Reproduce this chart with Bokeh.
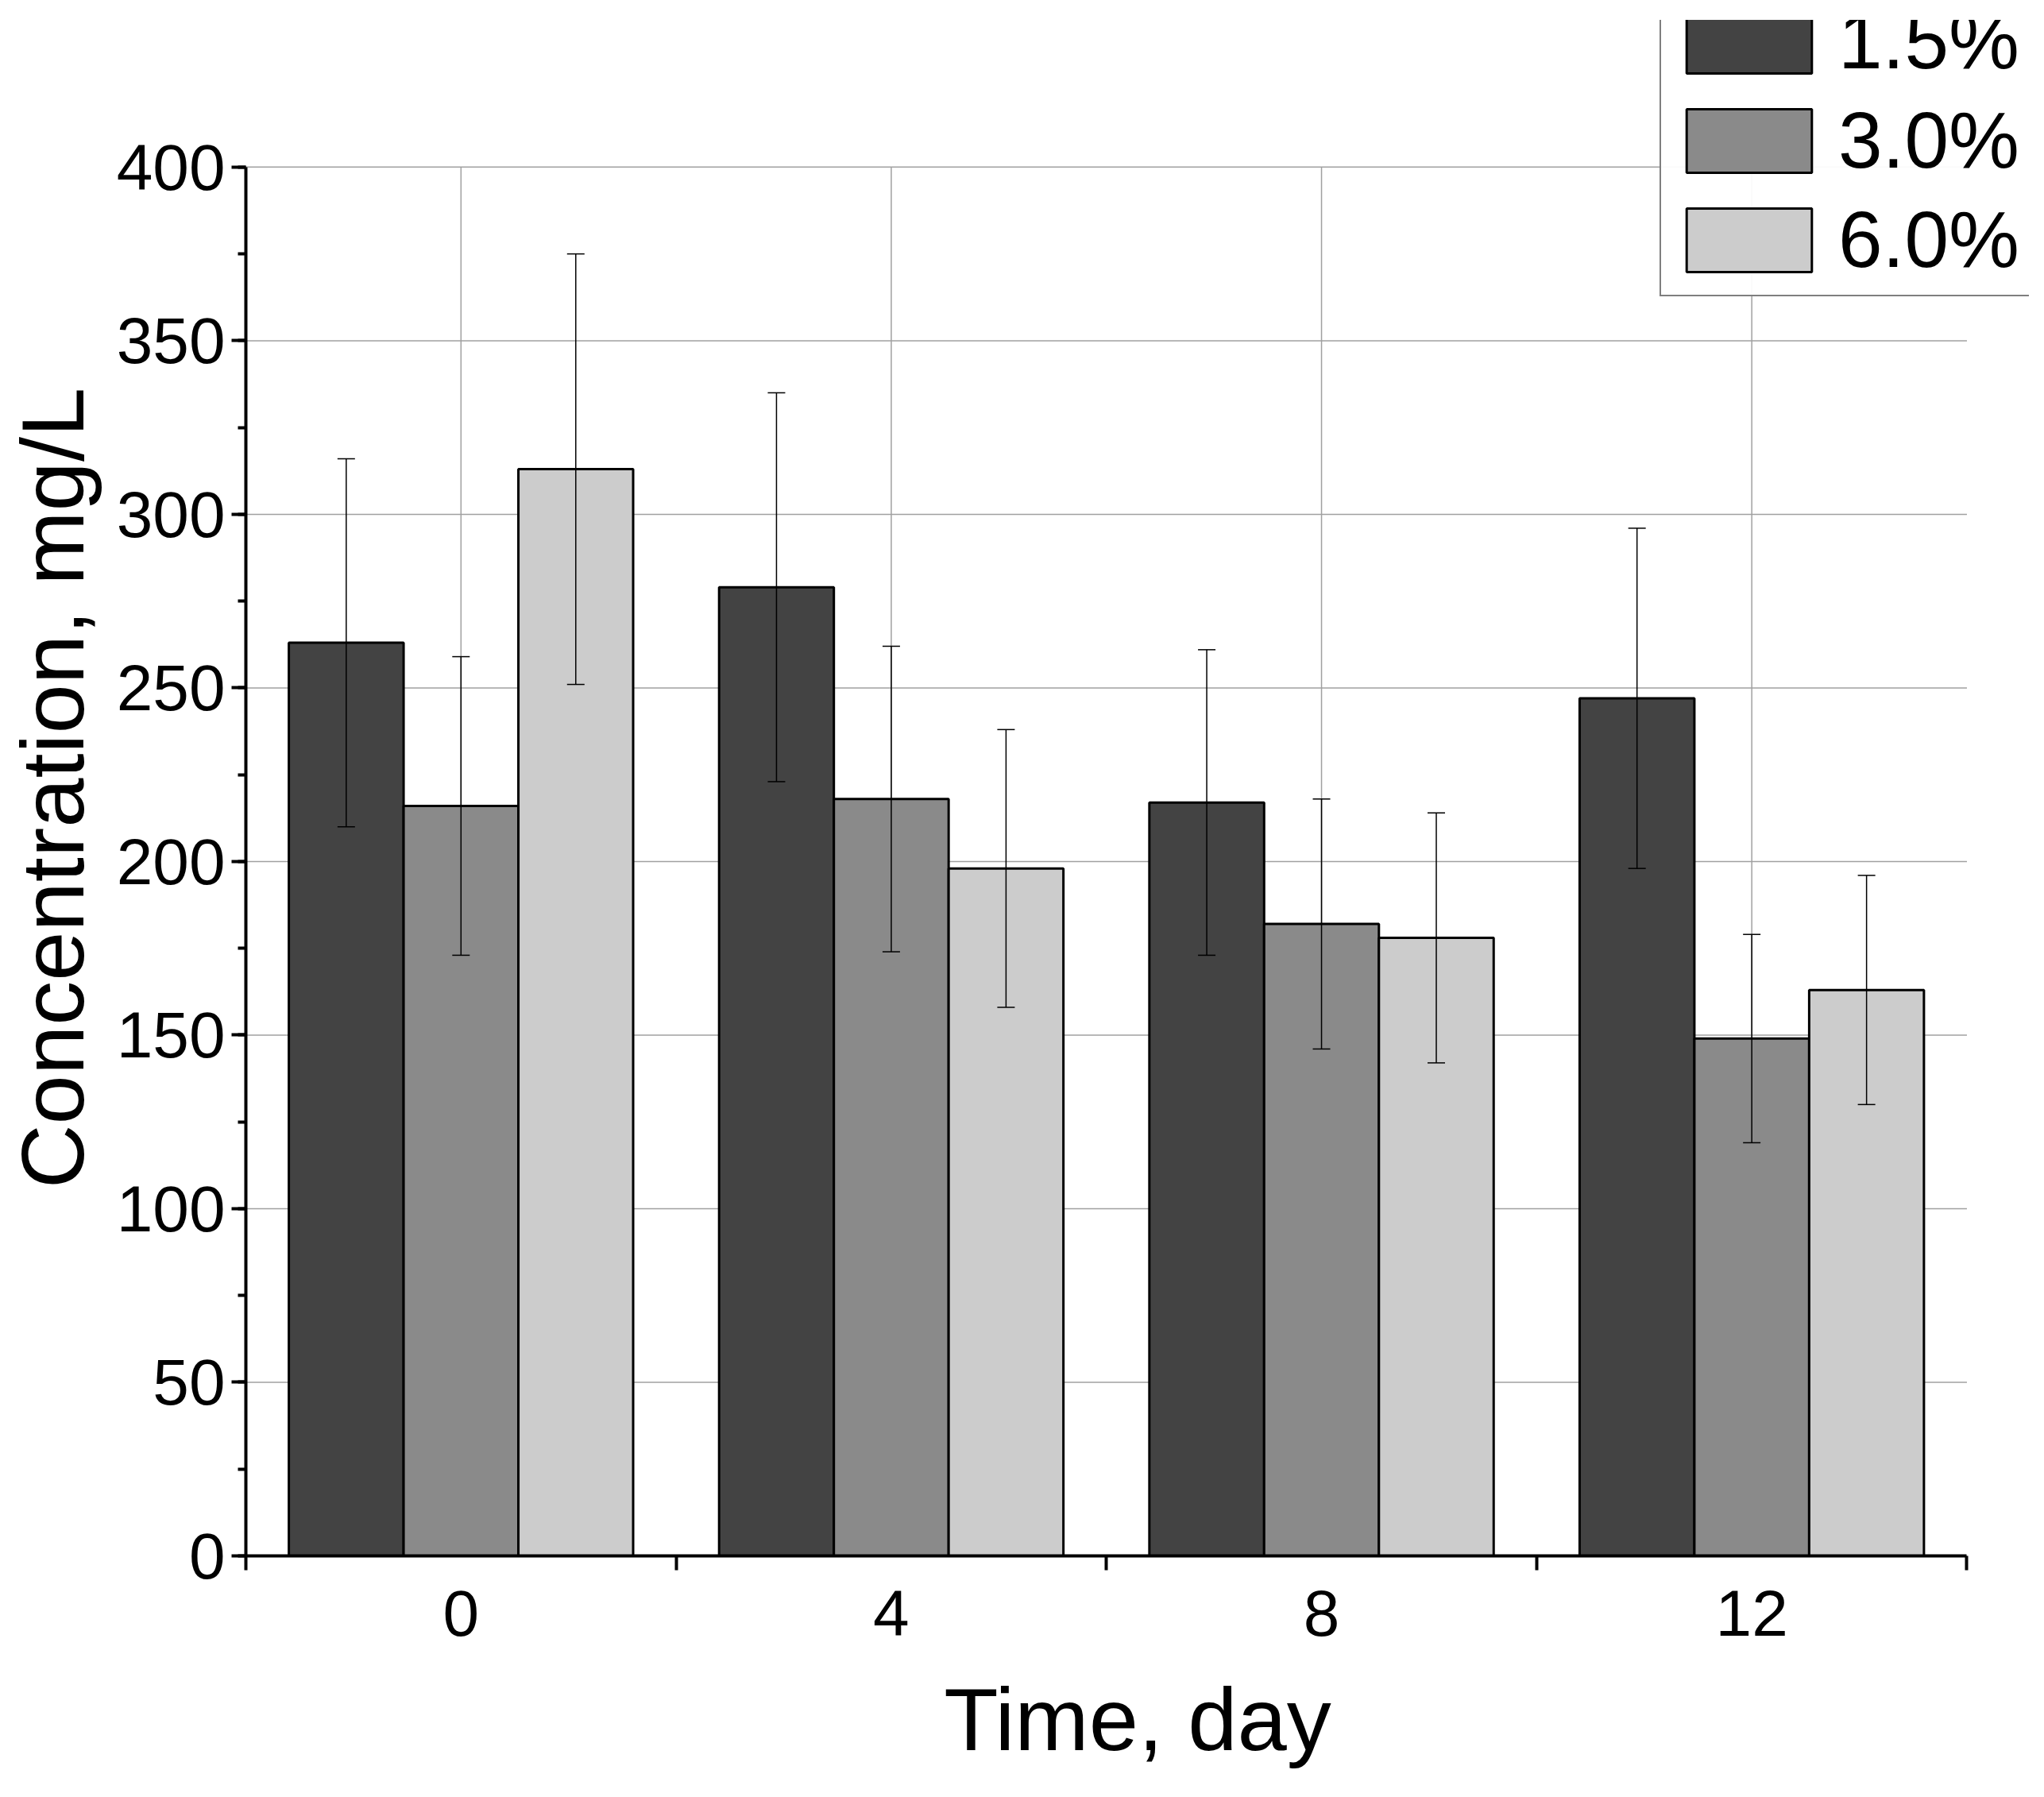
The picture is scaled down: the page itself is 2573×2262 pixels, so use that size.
from bokeh.plotting import figure
from bokeh.models import ColumnDataSource, Whisker, FixedTicker, Legend, LegendItem, Range1d
from bokeh.embed import file_html
from bokeh.resources import INLINE

days = [0, 4, 8, 12]
day_labels = ["0", "4", "8", "12"]
series = ["1.5%", "3.0%", "6.0%"]
colors = ["#434343", "#8a8a8a", "#cccccc"]
means = [
    [263, 279, 217, 247],
    [216, 218, 182, 149],
    [313, 198, 178, 163],
]
errors = [
    [53, 56, 44, 49],
    [43, 44, 36, 30],
    [62, 40, 36, 33],
]
y_ticks = list(range(0, 401, 50))
x_lo, x_hi, y_hi = -2, 14, 400

bar_w = 1.067
offsets = [-bar_w, 0, bar_w]
FONT = "Liberation Sans"

# frame extends above/right of the axes so the legend fits inside it
p = figure(width=2557, height=2246, output_backend="svg", toolbar_location=None,
           x_range=Range1d(-2, 14.58), y_range=Range1d(0, 442.3),
           min_border_left=309, min_border_right=3, min_border_top=25, min_border_bottom=288)
p.outline_line_color = None
p.grid.visible = False

# grid lines limited to the axes box
p.segment(x0=[x_lo] * len(y_ticks), x1=[x_hi] * len(y_ticks), y0=y_ticks, y1=y_ticks,
          line_color="#a0a0a0", line_width=1.5, level="underlay")
p.segment(x0=days, x1=days, y0=[0] * len(days), y1=[y_hi] * len(days),
          line_color="#a0a0a0", line_width=1.5, level="underlay")

items = []
for i, name in enumerate(series):
    xs = [d + offsets[i] for d in days]
    src = ColumnDataSource(dict(x=xs, top=means[i],
                                lo=[m - e for m, e in zip(means[i], errors[i])],
                                hi=[m + e for m, e in zip(means[i], errors[i])]))
    r = p.vbar(x="x", top="top", width=bar_w, source=src, fill_color=colors[i],
               line_color="black", line_width=3)
    w = Whisker(base="x", lower="lo", upper="hi", source=src, line_color="black",
                line_width=1.5, level="overlay")
    w.upper_head.size = 22
    w.lower_head.size = 22
    w.upper_head.line_width = 1.5
    w.lower_head.line_width = 1.5
    p.add_layout(w)
    items.append(LegendItem(label=name, renderers=[r]))

p.xaxis.bounds = (x_lo, x_hi)
p.yaxis.bounds = (0, y_hi)
p.xaxis.ticker = FixedTicker(ticks=days, minor_ticks=[-2, 2, 6, 10, 14])
p.xaxis.major_label_overrides = {d: l for d, l in zip(days, day_labels)}
p.xaxis.major_tick_out = 0
p.xaxis.major_tick_in = 0
p.xaxis.minor_tick_out = 18
p.xaxis.minor_tick_in = 0
p.yaxis.ticker = FixedTicker(ticks=y_ticks, minor_ticks=list(range(0, 401, 25)))
p.yaxis.major_tick_out = 18
p.yaxis.major_tick_in = 0
p.yaxis.minor_tick_out = 10
p.yaxis.minor_tick_in = 0
for ax in (p.xaxis, p.yaxis):
    ax.axis_line_width = 4
    ax.major_tick_line_width = 4
    ax.minor_tick_line_width = 4
    ax.major_label_text_font = FONT
    ax.major_label_text_font_size = "82px"
    ax.major_label_text_color = "black"
    ax.axis_label_text_font = FONT
    ax.axis_label_text_font_size = "112px"
    ax.axis_label_text_font_style = "normal"
    ax.axis_label_text_color = "black"
p.xaxis.axis_label = "Time, day"
p.yaxis.axis_label = "Concentration, mg/L"
p.xaxis.major_label_standoff = 25
p.xaxis.axis_label_standoff = 40
p.yaxis.major_label_standoff = 8
p.yaxis.axis_label_standoff = 15

legend = Legend(items=items, location=(1780, 1585), glyph_width=197, glyph_height=100,
                label_text_font=FONT, label_text_font_size="100px", label_height=100,
                label_text_color="black", spacing=10, padding=12, margin=0, label_standoff=14,
                border_line_color="black", border_line_width=2)
p.add_layout(legend, "center")

open("out.html", "w").write(file_html(p, INLINE))
